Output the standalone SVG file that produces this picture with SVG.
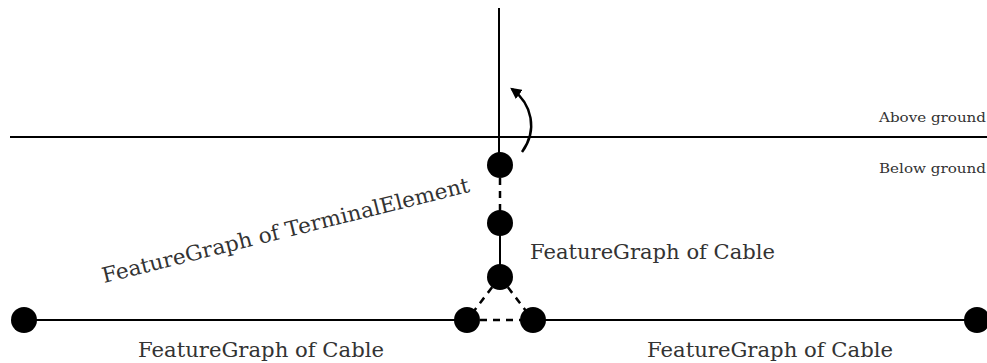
<svg xmlns="http://www.w3.org/2000/svg" width="987" height="363" viewBox="0 0 987 363">
<style>
.ln{stroke:#000;stroke-width:2;fill:none}
.arr{stroke:#000;stroke-width:2.5;fill:none}
.dash{stroke:#000;stroke-width:2.5;fill:none;stroke-dasharray:7 6}
.nd{fill:#000}
.lbl{font-family:"DejaVu Serif","Liberation Serif",serif;fill:#333;font-size:21px}
.sm{font-family:"DejaVu Serif","Liberation Serif",serif;fill:#333;font-size:13px}
</style>
<defs>
<marker id="ah" viewBox="0 0 10 10" refX="8" refY="5" markerWidth="4.5" markerHeight="4.5" orient="auto">
<path d="M0,0 L10,5 L0,10 Z" fill="#000"/>
</marker>
</defs>
<rect width="987" height="363" fill="#fff"/>
<g id="connectors">
<line class="ln" x1="499" y1="8" x2="499" y2="165"/>
<line class="ln" x1="10" y1="137" x2="987" y2="137"/>
<path class="arr" d="M522,152 C538,130 532,104 512,89" marker-end="url(#ah)"/>
<line class="dash" x1="500" y1="165" x2="500" y2="223"/>
<line class="ln" x1="500" y1="223" x2="500" y2="277"/>
<line class="dash" x1="500" y1="277" x2="467" y2="320"/>
<line class="dash" x1="500" y1="277" x2="533" y2="320"/>
<line class="dash" x1="467" y1="320" x2="533" y2="320"/>
<line class="ln" x1="24" y1="320" x2="467" y2="320"/>
<line class="ln" x1="533" y1="320" x2="977" y2="320"/>
</g>
<g id="n1"><circle class="nd" cx="500" cy="165" r="13"/></g>
<g id="n2"><circle class="nd" cx="500" cy="223" r="13"/></g>
<g id="n3"><circle class="nd" cx="500" cy="277" r="13"/></g>
<g id="n4"><circle class="nd" cx="467" cy="320" r="13"/></g>
<g id="n5"><circle class="nd" cx="533" cy="320" r="13"/></g>
<g id="n6"><circle class="nd" cx="24" cy="320" r="13"/></g>
<g id="n7"><circle class="nd" cx="977" cy="320" r="13"/></g>
<g id="labels">
<text class="sm" x="879" y="122" textLength="107" lengthAdjust="spacingAndGlyphs">Above ground</text>
<text class="sm" x="879" y="173" textLength="107" lengthAdjust="spacingAndGlyphs">Below ground</text>
<text class="lbl" x="530" y="259" textLength="245" lengthAdjust="spacingAndGlyphs">FeatureGraph of Cable</text>
<text class="lbl" x="138" y="357" textLength="246" lengthAdjust="spacingAndGlyphs">FeatureGraph of Cable</text>
<text class="lbl" x="647" y="357" textLength="246" lengthAdjust="spacingAndGlyphs">FeatureGraph of Cable</text>
<text class="lbl" x="104" y="283" transform="rotate(-14 104 283)" textLength="378" lengthAdjust="spacingAndGlyphs">FeatureGraph of TerminalElement</text>
</g>
</svg>
